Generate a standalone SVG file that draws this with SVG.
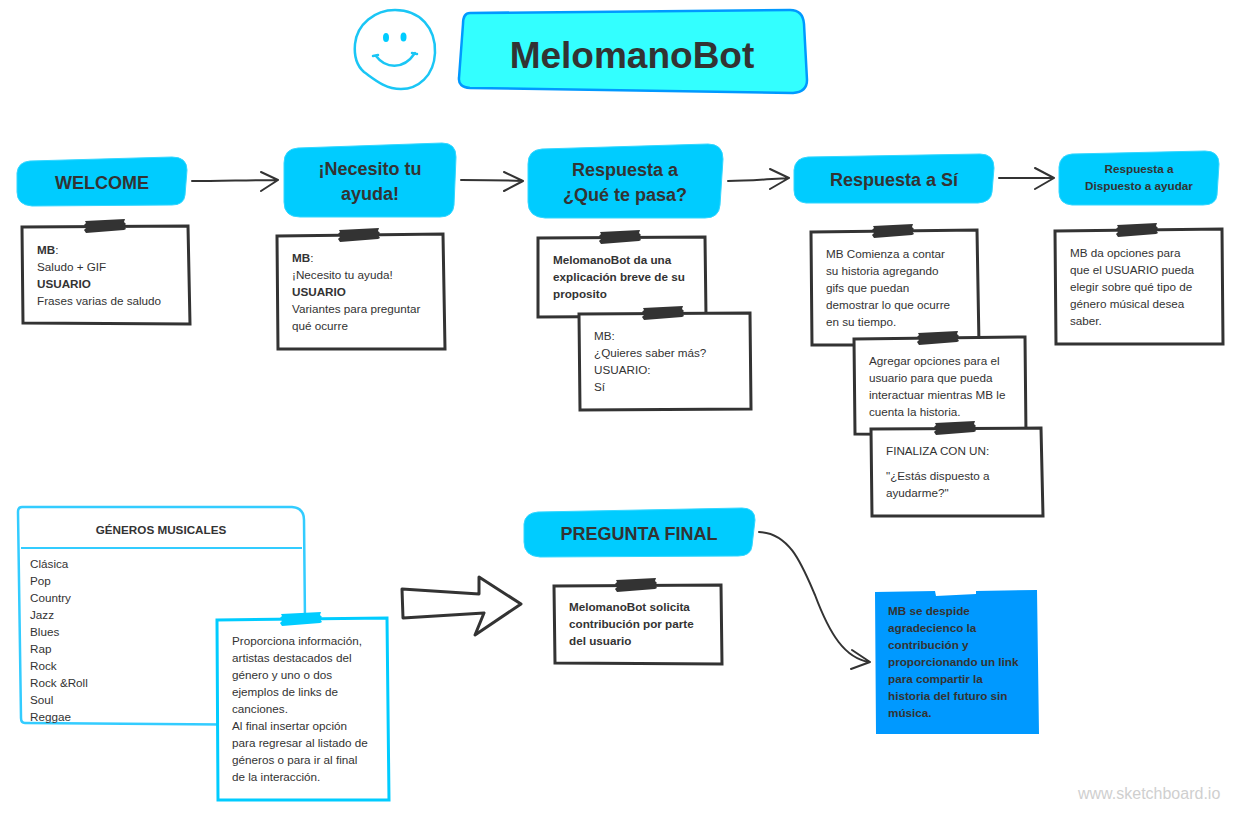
<svg xmlns="http://www.w3.org/2000/svg" width="1240" height="814" viewBox="0 0 1240 814">
<style>
text{font-family:"Liberation Sans",Arial,sans-serif;fill:#333;font-size:11.7px}
.b{font-weight:bold}
.t{font-weight:bold;font-size:18px;text-anchor:middle}
.head{fill:#00ccff;stroke:#33d6ff;stroke-width:1}
.card{fill:#fff;stroke:#333;stroke-width:3}
.cardb{fill:#fff;stroke:#00ccff;stroke-width:3}
.tape{fill:#333}
.con{fill:none;stroke:#333;stroke-width:2;stroke-linecap:round;stroke-linejoin:round}
</style>
<defs>
<polygon id="tape" points="-20,-5 20,-7 19,-4 21,-2 19,0 21,3 19,4 -19,7 -21,4 -19,2 -21,-1 -19,-3"/>
</defs>
<g id="smiley" fill="none" stroke="#1ac6f5" stroke-width="2.5" stroke-linecap="round">
<path d="M395 10C420 10 436 28 435 53C434 76 418 89 401 89C385 89 374 79 364 72C356 65 354 55 355 44C357 24 375 10 395 10Z"/>
<ellipse cx="386" cy="37.500" rx="3" ry="4.500" fill="#00ccff" stroke="none"/>
<ellipse cx="403.500" cy="37" rx="3" ry="4.500" fill="#00ccff" stroke="none"/>
<path d="M376 56C385 68 403 71 415 53M373 56L378 55M412 53L417 54"/>
</g>
<g id="title">
<path d="M470 13L790 10Q803 10 804 24L807 80Q807 92 793 93L470 88Q458 87 459 78L463 24Q463 13 470 13Z" fill="#33ffff" stroke="#0099ff" stroke-width="2.500"/>
<text x="632" y="68" text-anchor="middle" class="b" style="font-size:37px">MelomanoBot</text>
</g>
<g id="connectors">
<path class="con" d="M192 181C220 181 250 180 277 180M261 172L278 180L261 191"/>
<path class="con" d="M461 180C480 180 500 180 522 181M504 172L523 181L504 191"/>
<path class="con" d="M728 181C750 181 770 179 788 178M770 169L789 178L770 189"/>
<path class="con" d="M999 178H1053M1035 168L1054 178L1035 189"/>
<path class="con" d="M759 532C790 533 802 565 815 595C830 635 845 658 869 662M852 650L870 662L851 669"/>
<path d="M402 589L479 594L479 577L521 604L475 635L484 613L403 618Z" fill="#fff" stroke="#333" stroke-width="3" stroke-linejoin="round"/>
</g>
<g id="welcome">
<path class="head" d="M30 161L172 157Q187 157 187 170L185 195Q184 205 172 205L32 206Q17 205 17 192L17 173Q18 162 30 161Z"/>
<text class="t" x="102" y="189">WELCOME</text>
</g>
<g id="note-welcome">
<path class="card" d="M22 227L188 226L190 324L23 323Z"/>
<use href="#tape" class="tape" x="105" y="226"/>
<text x="37" y="254"><tspan class="b">MB</tspan>:</text>
<text x="37" y="271">Saludo + GIF</text>
<text x="37" y="288" class="b">USUARIO</text>
<text x="37" y="305">Frases varias de saludo</text>
</g>
<g id="necesito">
<path class="head" d="M298 148L442 143Q456 143 456 157L454 205Q453 217 440 217L300 217Q284 217 284 202L284 163Q284 149 298 148Z"/>
<text class="t" x="370" y="175">¡Necesito tu</text>
<text class="t" x="370" y="200">ayuda!</text>
</g>
<g id="note-necesito">
<path class="card" d="M277 236L443 234L445 349L278 349Z"/>
<use href="#tape" class="tape" x="359" y="235"/>
<text x="292" y="262"><tspan class="b">MB</tspan>:</text>
<text x="292" y="279">¡Necesito tu ayuda!</text>
<text x="292" y="296" class="b">USUARIO</text>
<text x="292" y="313">Variantes para preguntar</text>
<text x="292" y="330">qué ocurre</text>
</g>
<g id="respuesta">
<path class="head" d="M542 149L708 144Q723 144 723 159L720 205Q719 218 705 218L545 218Q528 217 528 202L528 164Q528 150 542 149Z"/>
<text class="t" x="625" y="176">Respuesta a</text>
<text class="t" x="625" y="201">¿Qué te pasa?</text>
</g>
<g id="note-respuesta">
<path class="card" d="M538 238L705 237L706 316L538 317Z"/>
<use href="#tape" class="tape" x="620" y="237"/>
<text class="b" x="553" y="264">MelomanoBot da una</text>
<text class="b" x="553" y="281">explicación breve de su</text>
<text class="b" x="553" y="298">proposito</text>
</g>
<g id="note-quieres">
<path class="card" d="M579 314L750 313L751 409L580 410Z"/>
<use href="#tape" class="tape" x="663" y="313"/>
<text x="594" y="340">MB:</text>
<text x="594" y="357">¿Quieres saber más?</text>
<text x="594" y="374">USUARIO:</text>
<text x="594" y="391">Sí</text>
</g>
<g id="respuesta-si">
<path class="head" d="M808 157L980 154Q994 154 994 168L992 192Q991 202 978 203L806 203Q794 202 794 190L794 170Q795 158 808 157Z"/>
<text class="t" x="894" y="186">Respuesta a Sí</text>
</g>
<g id="note-si">
<path class="card" d="M811 232L977 230L979 345L812 345Z"/>
<use href="#tape" class="tape" x="893" y="231"/>
<text x="826" y="258">MB Comienza a contar</text>
<text x="826" y="275">su historia agregando</text>
<text x="826" y="292">gifs que puedan</text>
<text x="826" y="309">demostrar lo que ocurre</text>
<text x="826" y="326">en su tiempo.</text>
</g>
<g id="note-agregar">
<path class="card" d="M854 339L1025 337L1026 435L855 434Z"/>
<use href="#tape" class="tape" x="938" y="338"/>
<text x="869" y="365">Agregar opciones para el</text>
<text x="869" y="382">usuario para que pueda</text>
<text x="869" y="399">interactuar mientras MB le</text>
<text x="869" y="416">cuenta la historia.</text>
</g>
<g id="note-finaliza">
<path class="card" d="M871 429L1041 428L1043 516L872 516Z"/>
<use href="#tape" class="tape" x="955" y="428"/>
<text x="886" y="455">FINALIZA CON UN:</text>
<text x="886" y="480">"¿Estás dispuesto a</text>
<text x="886" y="497">ayudarme?"</text>
</g>
<g id="dispuesto">
<path class="head" d="M1072 154L1205 151Q1219 151 1219 164L1217 195Q1216 205 1203 205L1072 205Q1059 204 1059 192L1059 167Q1060 155 1072 154Z"/>
<text class="b" x="1139" y="173" text-anchor="middle">Respuesta a</text>
<text class="b" x="1139" y="190" text-anchor="middle">Dispuesto a ayudar</text>
</g>
<g id="note-dispuesto">
<path class="card" d="M1055 231L1222 229L1223 344L1056 344Z"/>
<use href="#tape" class="tape" x="1137" y="230"/>
<text x="1070" y="257">MB da opciones para</text>
<text x="1070" y="274">que el USUARIO pueda</text>
<text x="1070" y="291">elegir sobre qué tipo de</text>
<text x="1070" y="308">género músical desea</text>
<text x="1070" y="325">saber.</text>
</g>
<g id="generos">
<path d="M22 507L292 507Q304 508 304 520L306 725L25 723Q21 723 21 718L18 512Q18 507 22 507Z" fill="#fff" stroke="#33ccff" stroke-width="2.500"/>
<path d="M21 548H302" stroke="#33ccff" stroke-width="2" fill="none"/>
<text class="b" x="161" y="534" text-anchor="middle">GÉNEROS MUSICALES</text>
<text x="30" y="568">Clásica</text>
<text x="30" y="585">Pop</text>
<text x="30" y="602">Country</text>
<text x="30" y="619">Jazz</text>
<text x="30" y="636">Blues</text>
<text x="30" y="653">Rap</text>
<text x="30" y="670">Rock</text>
<text x="30" y="687">Rock &amp;Roll</text>
<text x="30" y="704">Soul</text>
<text x="30" y="721">Reggae</text>
</g>
<g id="note-genero">
<path class="cardb" d="M217 620L387 618L389 800L218 800Z"/>
<use href="#tape" x="301" y="619" fill="#00ccff"/>
<text x="232" y="645">Proporciona información,</text>
<text x="232" y="662">artistas destacados del</text>
<text x="232" y="679">género y uno o dos</text>
<text x="232" y="696">ejemplos de links de</text>
<text x="232" y="713">canciones.</text>
<text x="232" y="730">Al final insertar opción</text>
<text x="232" y="747">para regresar al listado de</text>
<text x="232" y="764">géneros o para ir al final</text>
<text x="232" y="781">de la interacción.</text>
</g>
<g id="pregunta">
<path class="head" d="M538 512L742 508Q755 508 755 520L752 546Q751 556 738 556L540 557Q524 556 524 542L524 524Q525 513 538 512Z"/>
<text class="t" x="639" y="540">PREGUNTA FINAL</text>
</g>
<g id="note-pregunta">
<path class="card" d="M554 586L721 585L722 664L555 663Z"/>
<use href="#tape" class="tape" x="636" y="585"/>
<text class="b" x="569" y="611">MelomanoBot solicita</text>
<text class="b" x="569" y="628">contribución por parte</text>
<text class="b" x="569" y="645">del usuario</text>
</g>
<g id="note-despide">
<path d="M875 592L935 591L936 596L976 594L976 591L1037 590L1039 734L876 734Z" fill="#0099ff"/>
<text class="b" x="888" y="615">MB se despide</text>
<text class="b" x="888" y="632">agradecienco la</text>
<text class="b" x="888" y="649">contribución y</text>
<text class="b" x="888" y="666">proporcionando un link</text>
<text class="b" x="888" y="683">para compartir la</text>
<text class="b" x="888" y="700">historia del futuro sin</text>
<text class="b" x="888" y="717">música.</text>
</g>
<text id="watermark" x="1078" y="799" style="font-size:16px;fill:#cfcfcf">www.sketchboard.io</text>
</svg>
